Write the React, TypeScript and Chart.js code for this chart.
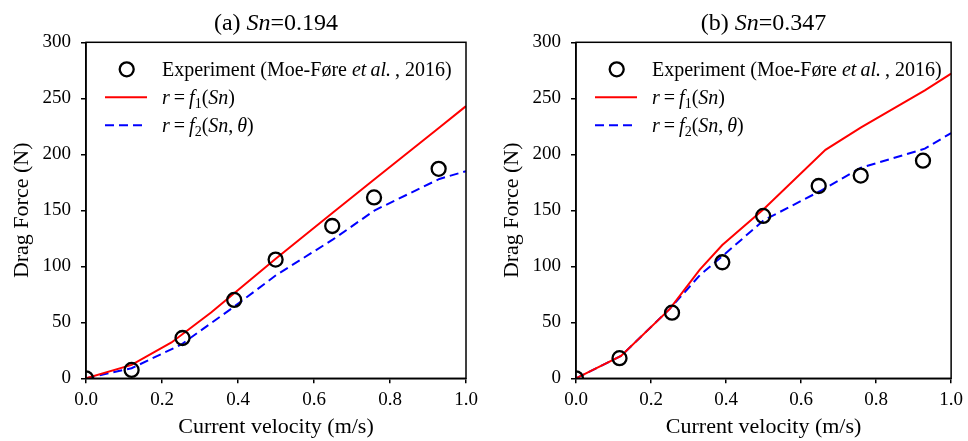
import React, { useEffect, useRef } from "react";
import { Chart, registerables } from "chart.js";
Chart.register(...registerables);

const FONT = "'Liberation Serif', 'Times New Roman', serif";

// Panel (a) Sn=0.194
const expVelA = [0, 0.12, 0.254, 0.39, 0.499, 0.648, 0.758, 0.928];
const expForceA = [0, 7.5, 36, 70, 106, 136, 161.5, 187];
const f1VelA = [0, 0.12, 0.225, 0.33, 0.39, 0.5, 0.65, 0.76, 0.93, 1.0];
const f1ForceA = [0, 12, 32, 59, 76, 107, 148, 178, 224, 243];
const f2VelA = [0, 0.12, 0.25, 0.39, 0.5, 0.65, 0.76, 0.93, 1.0];
const f2ForceA = [0, 9, 30, 64, 92, 124, 150, 178, 185];

// Panel (b) Sn=0.347
const expVelB = [0, 0.116, 0.256, 0.39, 0.499, 0.647, 0.759, 0.925];
const expForceB = [0, 18, 58.6, 103.6, 145, 171.7, 181, 194.3];
const f1VelB = [0, 0.12, 0.25, 0.33, 0.39, 0.5, 0.665, 0.76, 0.93, 1.0];
const f1ForceB = [0, 20, 62, 97, 119, 151, 204, 224, 257, 272];
const f2VelB = [0, 0.12, 0.25, 0.33, 0.39, 0.5, 0.65, 0.76, 0.93, 1.0];
const f2ForceB = [0, 20, 62, 92, 109, 141, 167, 188, 205, 219];

const xTicks = [0, 0.2, 0.4, 0.6, 0.8, 1.0];
const yTicks = [0, 50, 100, 150, 200, 250, 300];

type Seg = { t: string; i?: boolean; sub?: boolean };

function drawSegs(ctx: CanvasRenderingContext2D, segs: Seg[], x: number, y: number, size: number) {
  let cx = x;
  for (const s of segs) {
    const sz = s.sub ? size * 0.7 : size;
    ctx.font = `${s.i ? "italic " : ""}${sz}px ${FONT}`;
    ctx.fillText(s.t, cx, s.sub ? y + size * 0.22 : y);
    cx += ctx.measureText(s.t).width;
  }
  return cx - x;
}

function segsWidth(ctx: CanvasRenderingContext2D, segs: Seg[], size: number) {
  let w = 0;
  for (const s of segs) {
    const sz = s.sub ? size * 0.7 : size;
    ctx.font = `${s.i ? "italic " : ""}${sz}px ${FONT}`;
    w += ctx.measureText(s.t).width;
  }
  return w;
}

const legendRows: Seg[][] = [
  [{ t: "Experiment (Moe-Føre " }, { t: "et\u2009al.", i: true }, { t: "\u2009, 2016)" }],
  [{ t: "r", i: true }, { t: "\u2009=\u2009" }, { t: "f", i: true }, { t: "1", sub: true }, { t: "(" }, { t: "Sn", i: true }, { t: ")" }],
  [{ t: "r", i: true }, { t: "\u2009=\u2009" }, { t: "f", i: true }, { t: "2", sub: true }, { t: "(" }, { t: "Sn", i: true }, { t: ",\u2009" }, { t: "θ", i: true }, { t: ")" }],
];

function makeDecor(titleSegs: Seg[]) {
  return {
    id: "decor",
    afterDraw(chart: any) {
      const { ctx, chartArea } = chart;
      const { left, right, top, bottom } = chartArea;
      ctx.save();
      // frame
      ctx.strokeStyle = "#000";
      ctx.lineWidth = 1.5;
      ctx.strokeRect(left, top, right - left, bottom - top);
      // title
      ctx.fillStyle = "#000";
      ctx.textBaseline = "alphabetic";
      ctx.textAlign = "left";
      const ts = 24;
      const tw = segsWidth(ctx, titleSegs, ts);
      drawSegs(ctx, titleSegs, (left + right) / 2 - tw / 2, 29.5, ts);
      // legend
      const ls = 20;
      const mx = left + 40.7;
      const textX = left + 76;
      const rowsY = [top + 27, top + 55, top + 83];
      // marker
      ctx.beginPath();
      ctx.arc(mx, rowsY[0], 7, 0, Math.PI * 2);
      ctx.lineWidth = 2.3;
      ctx.strokeStyle = "#000";
      ctx.stroke();
      // red line
      ctx.beginPath();
      ctx.moveTo(left + 19, rowsY[1]);
      ctx.lineTo(left + 61, rowsY[1]);
      ctx.strokeStyle = "#ff0000";
      ctx.lineWidth = 2;
      ctx.stroke();
      // blue dashed
      ctx.beginPath();
      ctx.setLineDash([9, 5]);
      ctx.moveTo(left + 19, rowsY[2]);
      ctx.lineTo(left + 61, rowsY[2]);
      ctx.strokeStyle = "#0000ff";
      ctx.stroke();
      ctx.setLineDash([]);
      ctx.fillStyle = "#000";
      for (let r = 0; r < legendRows.length; r++) {
        drawSegs(ctx, legendRows[r], textX, rowsY[r] + 6.5, ls);
      }
      ctx.restore();
    },
  };
}

function pts(xs: number[], ys: number[]) {
  return xs.map((x, i) => ({ x, y: ys[i] }));
}

function ChartPanel(props: {
  width: number;
  padRight: number;
  title: Seg[];
  expV: number[]; expF: number[];
  f1V: number[]; f1F: number[];
  f2V: number[]; f2F: number[];
}) {
  const ref = useRef<HTMLCanvasElement>(null);
  useEffect(() => {
    const canvas = ref.current!;
    const chart = new Chart(canvas, {
      type: "scatter",
      data: {
        datasets: [
          {
            label: "Experiment",
            data: pts(props.expV, props.expF),
            showLine: false,
            pointStyle: "circle",
            pointRadius: 7,
            pointBorderWidth: 2.3,
            borderColor: "#000",
            backgroundColor: "rgba(0,0,0,0)",
            pointBackgroundColor: "rgba(0,0,0,0)",
            clip: 0,
          } as any,
          {
            label: "r=f1(Sn)",
            data: pts(props.f1V, props.f1F),
            showLine: true,
            borderColor: "#ff0000",
            borderWidth: 2,
            pointRadius: 0,
            tension: 0,
            clip: 0,
          } as any,
          {
            label: "r=f2(Sn,θ)",
            data: pts(props.f2V, props.f2F),
            showLine: true,
            borderColor: "#0000ff",
            borderWidth: 2,
            borderDash: [9, 5],
            pointRadius: 0,
            tension: 0,
            clip: 0,
          } as any,
        ],
      },
      options: {
        responsive: false,
        animation: false,
        events: [],
        layout: { padding: { left: 0, right: props.padRight, top: 42.3, bottom: 0 } },
        plugins: { legend: { display: false }, tooltip: { enabled: false }, title: { display: false } },
        scales: {
          x: {
            type: "linear",
            min: 0,
            max: 1,
            afterFit: (s: any) => { s.height = 62.7; },
            afterBuildTicks: (s: any) => { s.ticks = xTicks.map((v) => ({ value: v })); },
            ticks: {
              color: "#000",
              font: { family: FONT, size: 19 },
              padding: 5,
              maxRotation: 0,
              callback: (v: any) => Number(v).toFixed(1),
            },
            grid: { display: true, drawOnChartArea: false, drawTicks: true, tickLength: 5, color: "#000", lineWidth: 1.5 },
            border: { display: true, color: "#000", width: 1.5 },
            title: { display: true, text: "Current velocity (m/s)", color: "#000", font: { family: FONT, size: 22 }, padding: { top: 0, bottom: 1 } },
          },
          y: {
            type: "linear",
            min: 0,
            max: 300,
            afterFit: (s: any) => { s.width = 86; },
            afterBuildTicks: (s: any) => { s.ticks = yTicks.map((v) => ({ value: v })); },
            ticks: {
              color: "#000",
              font: { family: FONT, size: 19 },
              padding: 10,
              callback: (v: any) => String(v),
            },
            grid: { display: true, drawOnChartArea: false, drawTicks: true, tickLength: 5, color: "#000", lineWidth: 1.5 },
            border: { display: true, color: "#000", width: 1.5 },
            title: { display: true, text: "Drag Force (N)", color: "#000", font: { family: FONT, size: 22 }, padding: { top: 9, bottom: 0 } },
          },
        },
      } as any,
      plugins: [makeDecor(props.title)],
    });
    return () => chart.destroy();
  }, []);
  return (
    <div style={{ width: props.width, height: 441, position: "relative" }}>
      <canvas ref={ref} width={props.width} height={441} style={{ width: props.width, height: 441, display: "block" }} />
    </div>
  );
}

export default function App() {
  return (
    <div style={{ position: "fixed", left: 0, top: 0, width: 968, height: 441, background: "#fff", display: "flex" }}>
      <ChartPanel
        width={490}
        padRight={24}
        title={[{ t: "(a) " }, { t: "Sn", i: true }, { t: "=0.194" }]}
        expV={expVelA} expF={expForceA}
        f1V={f1VelA} f1F={f1ForceA}
        f2V={f2VelA} f2F={f2ForceA}
      />
      <ChartPanel
        width={478}
        padRight={11.3}
        title={[{ t: "(b) " }, { t: "Sn", i: true }, { t: "=0.347" }]}
        expV={expVelB} expF={expForceB}
        f1V={f1VelB} f1F={f1ForceB}
        f2V={f2VelB} f2F={f2ForceB}
      />
    </div>
  );
}
